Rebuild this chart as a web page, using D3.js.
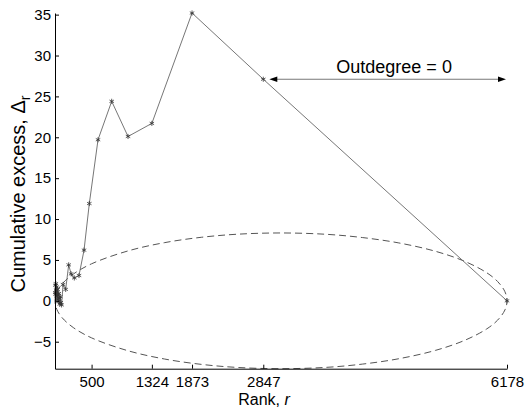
<!DOCTYPE html>
<html>
<head>
<meta charset="utf-8">
<script src="https://cdn.jsdelivr.net/npm/d3@7"></script>
<style>
  body { margin: 0; background: #fff; }
  svg { display: block; font-family: "Liberation Sans", Arial, Helvetica, sans-serif; }
</style>
</head>
<body>
<svg width="526" height="411"></svg>
<script>
// Data: rank r and cumulative excess Δr
const ranks = [3, 6, 9, 12, 15, 18, 22, 26, 30, 35, 40, 46, 52, 58, 65, 72, 80, 90, 110,
  146, 187, 220, 264, 328, 397, 469, 588, 775, 998, 1324, 1873, 2847, 6178];
const excess = [1.0, 1.9, 0.8, 2.1, 1.3, 0.6, 1.7, 1.1, 0.2, 1.4, 0.7, -0.1, 0.9, 0.3, -0.4, 0.5, -0.2, -0.5, 2.0,
  1.4, 4.4, 3.3, 2.8, 3.1, 6.2, 11.9, 19.7, 24.4, 20.1, 21.7, 35.2, 27.1, 0];

// Dashed envelope (half width at each rank)
const envelopeRanks = [0, 25, 100, 250, 500, 1000, 1500, 2000, 2500, 3089, 3700, 4200, 4700, 5200, 5600, 5900, 6050, 6150, 6178];
const envelopeHalf = [0, 1.05, 2.09, 3.27, 4.53, 6.11, 7.12, 7.77, 8.15, 8.3, 8.14, 7.74, 7.08, 6.06, 4.83, 3.44, 2.36, 1.11, 0];

// Ticks
const xTicks = [500, 1324, 1873, 2847, 6178];
const yTicks = [-5, 0, 5, 10, 15, 20, 25, 30, 35];

// Annotation
const arrowRanks = [2847, 6178];
const arrowValue = 27.1;
const noteRank = 4635;

const svg = d3.select("svg");

const x = d3.scaleLinear().domain([0, 6178]).range([55, 507]);
const y = d3.scaleLinear().domain([-8.3, 35.2]).range([368.7, 13]);

// Envelope: upper half left to right, lower half back again
const envPts = envelopeRanks.map((r, i) => [x(r), y(envelopeHalf[i])])
  .concat(envelopeRanks.slice(1, -1).reverse().map(r => {
    const j = envelopeRanks.indexOf(r);
    return [x(r), y(-envelopeHalf[j])];
  }));

svg.append("path")
  .attr("d", d3.line().curve(d3.curveCatmullRomClosed)(envPts))
  .attr("fill", "none")
  .attr("stroke", "#555")
  .attr("stroke-width", 1)
  .attr("stroke-dasharray", "7,4");

// Main series
const pts = ranks.map((r, i) => [x(r), y(excess[i])]);

svg.append("path")
  .attr("d", d3.line()(pts))
  .attr("fill", "none")
  .attr("stroke", "#666")
  .attr("stroke-width", 0.9);

svg.selectAll(".mark")
  .data(pts)
  .enter()
  .append("path")
  .attr("class", "mark")
  .attr("transform", d => `translate(${d[0]},${d[1]})`)
  .attr("d", d3.symbol(d3.symbolAsterisk, 18))
  .attr("fill", "none")
  .attr("stroke", "#333")
  .attr("stroke-width", 0.8);

// Axes, ticks pointing inward
const xAxis = svg.append("g")
  .attr("transform", `translate(0,${y(-8.3)})`)
  .call(d3.axisBottom(x).tickValues(xTicks).tickFormat(d3.format("d"))
    .tickSizeInner(-4).tickSizeOuter(0).tickPadding(8));

const yAxis = svg.append("g")
  .attr("transform", `translate(${x(0)},0)`)
  .call(d3.axisLeft(y).tickValues(yTicks).tickFormat(d => d < 0 ? "\u2212" + Math.abs(d) : d)
    .tickSizeInner(-4).tickSizeOuter(0).tickPadding(4));

[xAxis, yAxis].forEach(g => {
  g.selectAll("path, line").attr("stroke", "#000").attr("stroke-width", 1);
  g.selectAll("text").attr("fill", "#000").style("font-size", "15px").style("font-family", null);
});

// Axis labels
svg.append("text")
  .attr("x", 264)
  .attr("y", 405)
  .attr("text-anchor", "middle")
  .style("font-size", "16px")
  .html('Rank, <tspan font-style="italic">r</tspan>');

svg.append("text")
  .attr("transform", "translate(25,194) rotate(-90)")
  .attr("text-anchor", "middle")
  .style("font-size", "20px")
  .html('Cumulative excess, \u0394<tspan font-size="14px" dy="5">r</tspan>');

// Double-headed arrow "Outdegree = 0"
const ay = y(arrowValue);
const ax0 = x(arrowRanks[0]) + 6;
const ax1 = x(arrowRanks[1]) - 1;

svg.append("line")
  .attr("x1", ax0 + 6).attr("x2", ax1 - 6)
  .attr("y1", ay).attr("y2", ay)
  .attr("stroke", "#777")
  .attr("stroke-width", 1.2);

svg.append("path")
  .attr("d", `M${ax0},${ay}l8,-2.8v5.6z M${ax1},${ay}l-8,-2.8v5.6z`)
  .attr("fill", "#000");

svg.append("text")
  .attr("x", x(noteRank))
  .attr("y", ay - 6)
  .attr("text-anchor", "middle")
  .style("font-size", "18px")
  .text("Outdegree = 0");
</script>
</body>
</html>
